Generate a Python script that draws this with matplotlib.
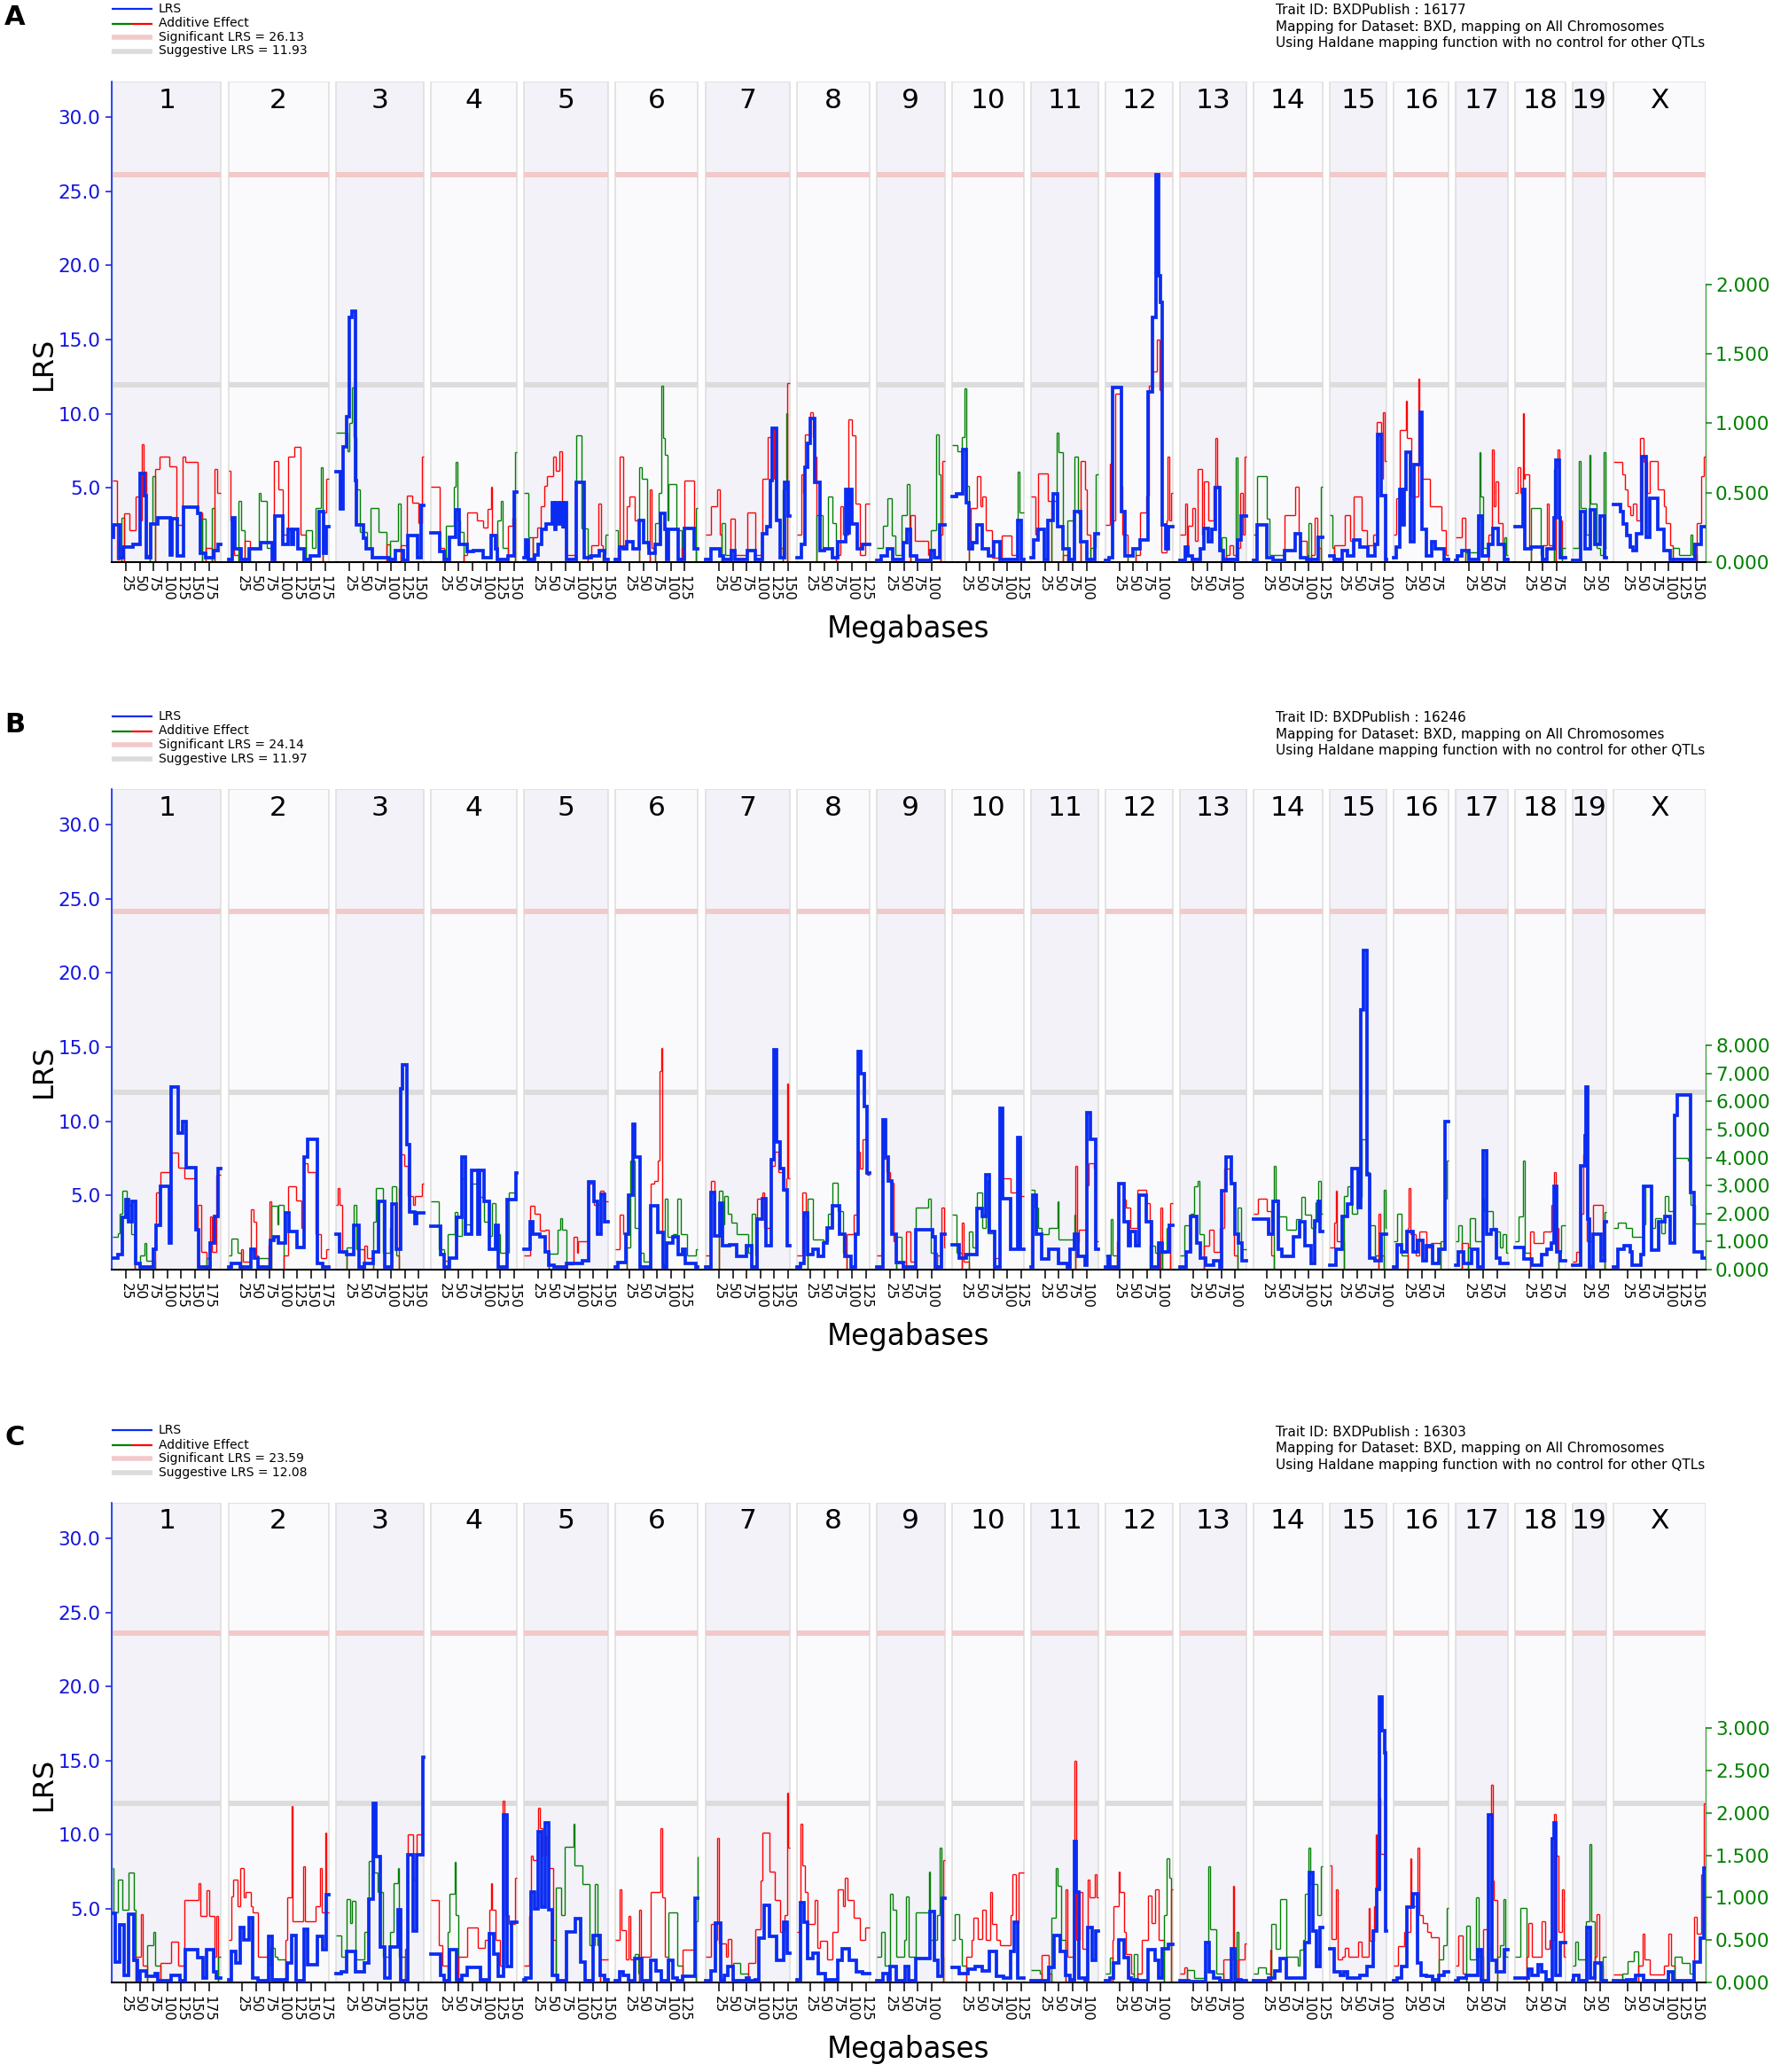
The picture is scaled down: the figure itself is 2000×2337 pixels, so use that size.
import numpy as np
import matplotlib
matplotlib.use("Agg")
import matplotlib.pyplot as plt
from matplotlib.collections import LineCollection
from matplotlib.patches import Rectangle
from matplotlib.lines import Line2D

plt.rcParams['font.family'] = ['DejaVu Sans']

# ---------------- data ----------------
CHROMS = ['1', '2', '3', '4', '5', '6', '7', '8', '9', '10', '11', '12', '13', '14',
          '15', '16', '17', '18', '19', 'X']
CHROM_MB = [197.2, 181.7, 159.6, 155.6, 152.5, 149.5, 152.5, 131.7, 124.1, 130.0,
            121.8, 121.3, 120.3, 125.2, 103.5, 98.3, 95.3, 90.8, 61.3, 166.7]
PANEL_LETTERS = ['A', 'B', 'C']
TRAIT_IDS = ['16177', '16246', '16303']
SIG_LRS = [26.13, 24.14, 23.59]
SUGG_LRS = [11.93, 11.97, 12.08]
LRS_TICKS = [5, 10, 15, 20, 25, 30]
ADD_TICKS = [[0.0, 0.5, 1.0, 1.5, 2.0],
             [0, 1, 2, 3, 4, 5, 6, 7, 8],
             [0.0, 0.5, 1.0, 1.5, 2.0, 2.5, 3.0]]

# per chromosome: flat list [Mb, value, Mb, value, ...] (step starts)
A_LRS = [
    [0,1.7, 2,2.5, 13,0.3, 20,1.0, 38,1.2, 51,6.0, 58,4.5, 62,0.3, 70,2.6, 82,3.0, 105,0.5, 108,2.9, 118,0.4, 129,3.7, 155,3.3, 160,0.6, 169,0.3, 184,0.8, 192,1.2],
    [0,0.2, 7,3.0, 12,0.9, 23,0.2, 37,0.9, 58,1.3, 80,0.2, 85,3.1, 98,1.2, 108,2.2, 114,1.2, 118,2.2, 126,0.9, 137,0.2, 148,0.4, 165,3.4, 173,0.6, 178,2.4],
    [0,6.1, 8,3.6, 13,7.8, 19,9.8, 24,16.5, 30,16.9, 36,5.5, 37,2.5, 50,1.6, 55,0.9, 66,0.3, 96,0.2, 108,0.8, 123,0.1, 131,1.8, 148,0.3, 155,3.8],
    [0,2.0, 16,0.7, 23,0.2, 34,1.7, 45,3.5, 51,1.2, 66,0.7, 76,0.8, 94,0.3, 108,1.8, 116,0.9, 120,0.2, 140,0.4, 150,4.7],
    [0,0.3, 3,1.5, 8,0.2, 19,0.5, 26,1.2, 32,2.2, 40,2.6, 51,4.0, 55,2.2, 58,4.0, 62,2.6, 65,4.0, 70,2.4, 73,4.0, 76,0.2, 95,5.4, 108,0.3, 122,0.4, 136,0.8, 146,0.2],
    [0,0.2, 7,1.0, 14,0.9, 21,1.4, 32,0.9, 43,2.8, 50,1.3, 60,0.6, 71,1.2, 82,3.3, 89,2.2, 92,0.2, 96,2.2, 113,0.2, 124,2.3, 142,0.9],
    [0,0.2, 10,0.9, 26,0.4, 33,0.2, 47,0.8, 54,0.2, 76,0.8, 90,0.2, 104,1.9, 111,2.4, 118,5.5, 121,9.0, 129,2.8, 135,0.3, 143,5.4, 150,3.1],
    [0,0.3, 8,1.2, 15,6.4, 20,8.0, 24,9.7, 32,5.4, 43,0.8, 50,0.9, 64,0.3, 75,1.4, 89,4.9, 93,2.0, 96,4.9, 100,2.6, 110,0.9, 120,1.2],
    [0,0.1, 9,0.4, 20,0.9, 30,0.2, 48,1.3, 55,2.2, 62,0.4, 73,0.1, 98,0.8, 105,0.3, 115,2.5],
    [0,4.4, 8,4.6, 19,7.6, 26,4.0, 30,0.9, 36,1.3, 44,2.5, 54,0.9, 65,0.4, 75,1.4, 86,0.2, 118,2.8, 125,0.2],
    [0,0.3, 5,1.5, 12,2.2, 23,0.2, 30,2.8, 40,4.6, 47,2.4, 58,0.9, 69,0.2, 79,3.4, 90,1.4, 101,0.2, 115,1.9],
    [0,0.1, 6,0.3, 13,11.8, 28,3.4, 35,0.4, 49,0.9, 63,1.5, 77,11.5, 84,16.5, 91,26.1, 96,19.3, 99,17.5, 102,2.5, 109,0.9, 113,2.4],
    [0,0.1, 10,1.0, 15,0.4, 22,0.2, 37,0.9, 44,2.3, 52,1.4, 58,2.2, 65,5.0, 72,0.8, 79,0.2, 101,0.1, 104,1.5, 111,3.1],
    [0,0.1, 7,2.5, 25,0.3, 36,0.1, 57,0.8, 75,1.9, 86,0.3, 97,0.2, 118,1.7],
    [0,0.4, 8,0.2, 23,0.8, 33,0.4, 44,1.5, 55,1.0, 69,0.4, 82,1.2, 87,8.6, 94,4.5, 101,0.2],
    [0,0.3, 4,1.0, 11,4.9, 16,2.5, 19,4.9, 22,7.4, 29,1.4, 36,6.6, 47,10.1, 50,2.2, 58,0.4, 68,1.4, 75,0.9, 90,0.2],
    [0,0.1, 4,0.4, 11,0.8, 25,0.2, 42,3.1, 49,0.4, 60,1.2, 67,2.3, 78,1.2, 88,0.2],
    [0,2.4, 14,4.9, 18,0.9, 28,1.0, 50,0.2, 57,0.9, 70,3.0, 73,6.9, 80,3.0, 82,0.3],
    [0,0.1, 15,3.4, 22,0.9, 33,3.5, 40,1.2, 50,3.1, 58,0.3],
    [0,3.9, 12,3.4, 18,2.6, 24,1.8, 30,1.0, 35,0.8, 41,1.9, 51,7.1, 59,1.7, 66,4.3, 80,2.2, 91,0.8, 102,0.2, 148,1.2, 159,2.4],
]
A_ADD = [
    [0,0.59, 9,0.02, 13,0.1, 17,-0.32, 22,0.35, 31,0.23, 42,0.47, 48,0.3, 53,0.85, 56,0.65, 62,0.05, 68,-0.28, 73,-0.62, 77,0.67, 86,0.76, 104,0.69, 117,0.27, 128,0.76, 133,0.72, 155,0.36, 162,-0.31, 169,0.1, 180,-0.39, 185,0.67, 190,0.5],
    [0,0.66, 4,0.3, 10,0.05, 19,-0.44, 23,-0.23, 30,0.15, 40,-0.1, 55,-0.5, 58,-0.44, 70,-0.1, 83,0.73, 91,0.52, 98,0.2, 108,0.76, 119,0.83, 130,0.2, 140,-0.23, 151,-0.1, 158,-0.39, 167,-0.68, 171,0.36, 178,0.6],
    [0,-0.93, 21,-0.8, 25,-1.0, 29,-1.26, 33,-0.9, 37,-0.52, 43,-0.22, 56,-0.1, 63,-0.39, 78,-0.22, 92,0.13, 99,-0.15, 112,-0.42, 117,0.12, 128,0.48, 138,0.43, 149,0.28, 156,0.76],
    [0,0.54, 16,0.1, 23,0.05, 27,-0.26, 41,-0.54, 45,-0.72, 47,-0.3, 52,-0.22, 59,0.05, 66,0.36, 83,0.3, 94,0.25, 103,0.38, 109,0.54, 111,0.2, 120,-0.3, 126,-0.44, 129,-0.1, 140,0.26, 147,0.32, 152,-0.79],
    [0,-0.5, 7,-0.18, 15,0.18, 23,0.25, 30,0.4, 37,0.55, 42,0.62, 52,0.76, 57,0.66, 64,0.8, 68,0.25, 75,0.05, 95,-0.91, 104,-0.24, 115,0.05, 122,0.12, 135,0.42, 139,0.12, 142,-0.06, 148,-0.2],
    [0,-0.23, 5,0.1, 7,0.76, 14,0.12, 21,0.4, 25,0.47, 35,0.3, 43,-0.68, 47,-0.6, 57,-0.1, 62,0.52, 65,0.1, 71,-0.28, 78,-0.5, 83,-1.27, 86,-0.89, 89,-0.77, 94,-0.3, 96,-0.56, 110,-0.23, 120,0.1, 124,0.59, 142,0.1, 146,-0.39],
    [0,0.2, 10,0.4, 22,0.52, 26,0.2, 29,-0.28, 36,-0.05, 46,0.31, 54,0.05, 76,0.36, 90,0.05, 104,0.6, 113,0.9, 119,0.96, 125,0.6, 129,0.31, 135,0.1, 141,-0.52, 146,-1.07, 149,1.29],
    [0,0.2, 8,0.63, 12,0.5, 15,0.92, 24,1.08, 30,0.9, 33,0.76, 36,-0.34, 47,-0.1, 57,-0.47, 64,-0.28, 71,0.05, 79,0.4, 84,0.2, 93,1.03, 100,0.91, 107,0.42, 114,0.05, 124,0.42],
    [0,-0.1, 11,-0.26, 20,-0.46, 27,-0.19, 34,-0.05, 45,-0.34, 55,-0.56, 60,-0.2, 62,0.34, 69,0.15, 94,0.05, 98,-0.23, 108,-0.92, 112,-0.63, 116,0.2, 119,0.73],
    [0,-0.84, 10,-0.8, 18,-0.9, 23,-1.25, 26,-0.55, 30,0.1, 33,0.39, 44,0.62, 51,0.4, 54,0.47, 61,0.23, 72,0.03, 89,0.19, 107,0.05, 118,-0.65, 121,-0.36],
    [0,0.47, 8,0.2, 12,0.64, 30,0.44, 37,-0.3, 40,-0.44, 46,-0.93, 49,-0.79, 58,0.05, 66,-0.3, 79,-0.76, 84,-0.35, 90,0.73, 97,0.52, 101,0.2, 108,-0.1, 117,-0.63],
    [0,0.27, 8,0.71, 11,0.3, 17,1.21, 28,0.55, 31,0.2, 40,-0.05, 48,-0.1, 55,0.05, 63,0.36, 74,0.48, 79,1.27, 84,1.37, 93,1.6, 97,1.24, 101,0.07, 110,0.3, 112,0.76, 115,0.3, 118,0.5],
    [0,0.2, 10,0.42, 13,0.1, 15,0.26, 22,0.39, 27,0.15, 33,0.67, 40,0.2, 44,0.58, 51,0.3, 62,0.55, 65,0.89, 68,0.55, 72,0.1, 76,-0.18, 83,0.05, 90,0.12, 97,0.05, 101,-0.75, 104,0.1, 109,0.5, 114,0.2, 118,0.76],
    [0,-0.2, 7,-0.62, 25,-0.31, 29,-0.05, 57,0.34, 75,0.54, 82,0.2, 86,0.15, 97,0.05, 100,-0.28, 104,0.05, 111,0.32, 116,0.1, 122,-0.54],
    [0,-0.34, 5,-0.1, 8,0.12, 27,0.34, 37,0.15, 44,0.47, 58,0.23, 67,0.12, 78,0.2, 85,1.01, 94,0.6, 96,1.08, 99,0.73],
    [0,0.2, 4,0.46, 11,0.95, 22,1.16, 24,0.89, 31,0.47, 44,1.32, 46,0.8, 50,0.6, 65,0.4, 86,0.23, 94,0.05],
    [0,0.18, 11,0.32, 18,-0.07, 41,-0.3, 43,-0.79, 46,-0.47, 50,-0.1, 60,0.2, 66,0.81, 70,0.4, 73,0.58, 78,0.28, 85,0.1, 88,-0.18, 92,-0.05],
    [0,0.5, 4,0.68, 10,0.5, 14,1.07, 16,0.6, 18,0.63, 25,0.1, 28,-0.39, 46,-0.05, 50,0.12, 58,0.42, 61,0.12, 70,-0.67, 73,0.68, 77,0.81, 80,0.3, 84,-0.1],
    [0,-0.1, 12,-0.73, 15,-0.39, 25,-0.2, 30,-0.77, 33,-0.42, 43,-0.1, 50,-0.05, 56,-0.79, 59,-0.1],
    [0,0.72, 16,0.63, 20,0.52, 25,0.4, 30,0.34, 35,0.42, 42,0.3, 48,0.89, 55,0.72, 60,0.5, 66,0.73, 80,0.52, 91,0.4, 95,0.28, 102,0.12, 108,-0.1, 119,-0.05, 140,-0.2, 143,-0.05, 151,0.28, 159,0.62, 164,0.76],
]

B_LRS = [
    [0,0.8, 10,1.0, 19,3.5, 24,4.7, 30,3.2, 36,4.6, 42,0.4, 51,0.2, 74,1.4, 80,3.0, 88,5.6, 103,1.8, 107,12.3, 120,9.2, 127,10.0, 134,6.9, 151,2.7, 157,0.2, 177,1.8, 185,3.6, 192,6.8],
    [0,0.2, 6,0.4, 22,0.2, 41,1.4, 47,0.8, 54,0.2, 76,2.0, 82,2.2, 91,1.8, 104,3.8, 110,2.6, 124,1.5, 137,7.6, 143,8.8, 161,0.4, 171,0.2],
    [0,2.4, 7,1.2, 19,1.0, 32,3.0, 42,0.2, 51,0.4, 67,1.2, 77,4.6, 89,0.2, 102,4.4, 109,1.4, 117,12.2, 121,13.8, 128,8.4, 134,3.9, 144,3.1, 147,3.8],
    [0,2.9, 17,1.0, 23,0.2, 33,0.8, 46,3.5, 55,7.6, 62,2.4, 74,6.7, 84,2.4, 88,6.7, 96,4.6, 106,1.4, 116,3.0, 122,0.2, 138,4.7, 153,6.5],
    [0,1.4, 10,3.2, 16,2.4, 29,2.2, 38,1.2, 44,0.3, 54,0.2, 76,0.4, 105,0.6, 117,5.9, 127,4.6, 133,2.4, 140,5.1, 146,3.2],
    [0,0.2, 5,0.5, 18,2.4, 24,5.0, 31,9.8, 34,7.6, 44,0.2, 63,4.3, 76,2.5, 86,0.2, 93,1.8, 103,2.2, 113,1.0, 122,1.4, 126,0.4, 145,0.2],
    [0,0.2, 11,5.2, 17,2.3, 26,4.5, 31,1.6, 44,1.7, 57,0.9, 74,1.6, 84,0.2, 93,3.4, 103,4.8, 110,1.6, 120,7.4, 124,14.8, 129,8.6, 136,6.8, 142,5.4, 149,1.6],
    [0,0.2, 7,0.4, 13,3.8, 20,1.0, 29,1.4, 39,0.9, 49,1.8, 55,2.8, 65,4.3, 78,2.4, 88,0.9, 98,0.2, 106,2.4, 111,14.7, 116,13.2, 123,11.0, 127,6.5],
    [0,0.2, 11,10.1, 16,7.6, 21,6.0, 28,2.4, 35,0.5, 48,0.2, 71,2.7, 101,2.2, 107,0.2, 118,2.4],
    [0,1.7, 12,0.8, 25,1.0, 44,4.1, 54,3.6, 61,6.4, 67,2.6, 76,0.2, 86,10.9, 92,4.8, 105,1.4, 118,8.9, 123,1.4],
    [0,0.2, 3,5.0, 10,2.4, 19,0.7, 32,1.4, 49,0.4, 65,0.2, 71,1.4, 78,2.4, 85,0.9, 97,0.3, 100,10.6, 107,8.8, 117,1.4],
    [0,0.2, 5,0.9, 8,0.2, 24,5.8, 34,3.2, 41,1.6, 44,2.6, 54,1.6, 60,5.0, 73,3.2, 83,0.2, 96,1.8, 103,1.2, 116,3.0],
    [0,0.2, 12,1.2, 19,3.6, 30,1.8, 37,0.8, 47,0.3, 61,0.6, 72,0.2, 76,5.3, 83,7.6, 93,5.8, 100,2.4, 106,1.8, 113,0.6],
    [0,3.4, 28,2.4, 36,4.6, 45,1.4, 52,0.9, 73,2.2, 83,3.2, 94,1.6, 104,0.4, 111,3.3, 117,4.6, 121,2.6],
    [0,0.3, 12,1.4, 23,3.6, 33,4.4, 40,6.8, 51,4.2, 57,17.5, 61,21.5, 68,6.4, 72,0.8, 82,0.6, 93,2.4],
    [0,0.2, 6,1.7, 13,1.2, 24,2.6, 35,1.2, 42,2.0, 52,0.6, 59,1.6, 70,0.4, 81,1.4, 92,10.0],
    [0,0.3, 5,1.2, 15,0.4, 29,1.4, 40,0.2, 50,8.0, 57,2.4, 64,2.7, 74,0.8, 81,0.4],
    [0,1.5, 16,0.7, 30,0.3, 47,1.0, 58,1.4, 65,1.8, 71,5.6, 75,1.2, 82,0.6],
    [0,0.3, 14,7.0, 22,9.0, 24,12.3, 27,3.4, 30,0.2, 37,2.4, 51,0.6, 58,3.2],
    [0,0.2, 8,1.4, 19,1.6, 30,1.2, 33,0.3, 50,1.0, 54,5.6, 68,1.3, 82,3.2, 93,3.6, 103,1.8, 110,10.4, 116,11.8, 139,5.2, 146,1.2, 160,0.8],
]
B_ADD = [
    [0,-1.16, 10,-1.3, 13,-2.0, 19,-2.8, 26,-2.3, 35,-1.27, 40,0.2, 50,-0.5, 58,-0.95, 61,-0.32, 77,1.27, 80,2.75, 87,3.48, 106,4.17, 119,3.64, 131,3.27, 151,1.5, 154,2.3, 161,0.63, 170,-0.4, 177,1.9, 181,0.63, 189,3.38],
    [0,-0.5, 6,-1.1, 16,-0.6, 24,0.74, 27,0.3, 41,2.16, 46,1.7, 51,0.5, 54,-0.42, 73,0.9, 75,2.43, 78,-2.27, 89,-1.6, 91,-2.3, 101,0.5, 108,2.96, 123,2.48, 133,1.5, 137,3.8, 143,3.48, 158,1.27, 168,0.4, 177,0.74],
    [0,2.3, 3,2.9, 6,2.3, 12,0.6, 20,-0.8, 32,-2.3, 38,-0.74, 51,0.85, 57,0.42, 68,-1.7, 73,-2.9, 86,-0.6, 98,-1.5, 102,-2.96, 109,-0.5, 115,2.9, 118,4.1, 124,3.7, 130,2.64, 140,2.3, 144,2.64, 156,3.06],
    [0,-2.43, 14,-0.74, 23,0.32, 30,-1.27, 43,-2.06, 48,-1.2, 56,-3.27, 62,-1.6, 74,-3.06, 84,-2.6, 96,-1.7, 104,-1.2, 110,-2.37, 116,-1.27, 124,-0.6, 141,-2.75, 153,-2.53],
    [0,0.5, 10,2.27, 19,2.0, 29,1.4, 38,1.43, 44,-0.58, 60,-1.43, 66,-1.85, 69,-1.43, 76,0.2, 89,1.16, 96,0.6, 98,1.0, 117,3.06, 126,2.3, 138,2.8, 144,2.43],
    [0,0.74, 8,1.95, 14,1.27, 20,-0.8, 27,-3.9, 34,-1.48, 42,-0.6, 50,-0.3, 63,3.06, 70,3.17, 76,3.9, 80,7.1, 83,7.9, 85,0.2, 89,-2.53, 94,-1.16, 103,-1.27, 112,-2.53, 119,-1.27, 130,-0.5, 145,-0.74],
    [0,0.5, 10,3.17, 16,1.2, 24,-2.8, 31,-1.6, 34,-2.64, 41,-2.0, 47,-1.69, 57,-1.27, 77,-0.6, 84,-2.0, 90,-0.5, 93,2.53, 103,2.75, 107,1.5, 120,3.7, 126,4.2, 133,3.48, 140,2.8, 146,3.27, 148,6.65, 150,3.27],
    [0,0.5, 10,2.75, 16,1.9, 20,-2.53, 29,-1.06, 49,-1.0, 56,-2.0, 65,-3.1, 75,-2.1, 84,-0.6, 90,1.27, 104,1.95, 110,4.22, 115,3.6, 120,4.65, 127,3.38],
    [0,0.5, 10,3.96, 18,3.48, 25,3.1, 31,1.0, 35,-1.16, 45,-0.3, 54,1.37, 61,0.3, 71,-2.2, 94,-2.53, 99,-0.6, 110,0.5, 118,2.2, 122,0.8],
    [0,-1.95, 8,-0.6, 18,1.69, 21,0.3, 31,-1.37, 37,-0.8, 44,-2.75, 54,-1.5, 61,-3.17, 64,-1.3, 76,0.4, 86,4.0, 92,3.27, 105,2.75, 118,2.64],
    [0,-2.85, 6,-2.2, 12,-1.5, 19,-1.27, 32,-1.5, 47,-2.43, 50,-1.06, 78,-1.95, 80,3.7, 83,1.0, 87,1.43, 100,3.0, 104,3.8, 113,3.6, 117,1.0],
    [0,-0.5, 9,-1.8, 13,-0.5, 20,1.0, 24,3.06, 34,2.5, 37,2.2, 44,1.5, 57,2.85, 73,2.37, 80,-0.84, 90,-0.6, 99,2.2, 102,-0.6, 110,-1.48, 117,2.37],
    [0,-0.5, 8,-1.58, 19,-2.0, 26,-2.96, 33,-3.17, 35,-1.27, 44,0.84, 54,1.43, 61,0.63, 72,1.5, 80,3.6, 90,3.2, 93,3.06, 98,0.5, 104,-2.2, 111,-0.74],
    [0,2.0, 9,2.53, 24,2.1, 32,0.5, 37,-3.7, 40,-2.5, 45,-1.9, 59,-1.43, 77,-1.8, 87,-2.6, 94,-1.95, 104,-1.5, 112,-2.4, 118,-3.17, 122,-2.0],
    [0,0.8, 8,1.69, 11,2.8, 13,1.0, 26,-2.64, 33,-2.96, 40,-2.0, 50,-2.6, 58,-4.65, 66,-3.48, 72,-1.58, 82,-0.5, 88,2.0, 91,0.5, 98,-2.85, 102,-1.5],
    [0,-1.0, 6,-2.0, 13,-0.5, 25,1.5, 27,2.9, 30,1.27, 40,0.5, 45,1.37, 59,0.8, 66,0.95, 84,-1.0, 90,-2.53, 96,-3.9],
    [0,-1.0, 5,-1.58, 12,0.95, 22,-0.8, 26,-1.85, 36,-1.0, 48,-2.53, 52,-2.1, 67,-1.5, 74,-1.37, 81,-0.8, 85,-1.27, 92,-0.6],
    [0,-1.0, 6,-1.9, 14,-3.9, 17,-0.6, 27,1.37, 33,0.95, 51,1.37, 65,2.3, 70,3.48, 73,1.5, 78,-0.6, 83,-1.58],
    [0,0.3, 6,0.63, 15,2.0, 19,4.1, 26,1.0, 37,2.3, 55,0.5, 58,-2.06],
    [0,-1.5, 8,-1.69, 22,-1.48, 33,-1.16, 54,-1.6, 58,-2.96, 68,-1.5, 75,-1.85, 86,-1.3, 93,-2.64, 100,-2.1, 110,-4.0, 135,-3.9, 139,-2.3, 148,-1.64],
]

C_LRS = [
    [0,4.7, 6,1.4, 13,3.9, 22,0.5, 29,4.6, 39,1.5, 45,0.2, 51,0.8, 61,0.4, 77,0.6, 83,0.1, 106,0.5, 122,0.1, 132,2.2, 154,1.7, 164,0.3, 170,2.2, 183,0.7, 189,0.3],
    [0,0.2, 6,2.1, 13,1.3, 22,3.7, 28,2.9, 38,4.4, 44,0.3, 54,0.1, 73,3.1, 79,0.2, 107,1.3, 114,3.2, 123,0.1, 137,3.6, 143,1.2, 161,3.1, 171,2.2, 177,5.9],
    [0,0.6, 10,0.7, 19,2.1, 35,0.7, 51,1.3, 59,5.6, 67,12.1, 72,8.5, 80,2.4, 89,0.3, 99,2.4, 112,4.9, 118,0.1, 131,8.6, 140,3.5, 147,8.6, 157,15.2],
    [0,1.9, 17,0.5, 23,0.1, 33,2.2, 46,0.2, 55,0.5, 65,1.0, 90,0.2, 106,3.3, 113,1.9, 122,0.4, 131,11.3, 138,1.1, 145,4.1],
    [0,0.2, 3,0.3, 13,6.1, 19,5.0, 25,10.2, 32,5.1, 38,10.8, 44,4.9, 51,0.5, 60,0.1, 76,3.4, 92,4.3, 102,1.4, 111,0.1, 124,3.2, 137,0.5, 146,0.2],
    [0,0.1, 8,0.7, 14,0.5, 24,0.1, 34,1.6, 47,0.1, 63,1.5, 73,0.8, 83,0.1, 96,1.5, 103,0.3, 112,0.1, 122,0.4, 144,5.7],
    [0,0.1, 11,0.8, 18,4.0, 28,0.1, 34,0.5, 41,1.1, 51,0.1, 74,0.3, 80,0.1, 90,0.2, 97,3.0, 107,5.2, 117,3.1, 129,1.5, 142,4.1, 149,2.0],
    [0,0.2, 7,5.4, 13,4.1, 20,1.6, 29,2.0, 39,0.6, 52,0.2, 75,1.5, 82,2.3, 95,1.5, 108,0.7, 120,0.6],
    [0,0.1, 11,0.6, 21,0.2, 25,1.1, 35,0.1, 51,1.1, 58,0.1, 71,1.6, 96,4.8, 104,1.5, 111,0.4, 119,5.7],
    [0,1.0, 12,0.6, 28,0.9, 41,1.1, 54,0.8, 67,2.1, 80,0.4, 93,0.3, 105,2.1, 112,4.1, 118,0.3],
    [0,0.1, 32,1.0, 42,3.2, 52,2.1, 62,0.5, 71,0.2, 78,9.5, 81,6.1, 87,0.3, 97,0.2, 103,3.7, 110,1.5, 117,3.5],
    [0,0.1, 8,0.3, 14,1.3, 24,2.9, 34,1.7, 41,0.3, 47,0.2, 57,0.1, 77,2.2, 90,1.5, 96,0.3, 103,2.3, 113,2.6],
    [0,0.1, 16,0.05, 47,2.7, 54,0.7, 62,0.3, 72,0.1, 93,2.3, 100,0.2, 111,0.1],
    [0,0.1, 28,0.3, 38,0.8, 49,1.6, 59,0.3, 94,2.7, 101,7.4, 108,3.5, 115,1.1, 120,3.7],
    [0,2.3, 8,0.7, 19,0.5, 26,0.7, 33,0.3, 54,0.5, 68,1.1, 79,3.5, 85,6.3, 90,19.3, 95,17.0, 99,15.5, 102,3.5],
    [0,0.1, 6,0.3, 13,1.1, 24,5.1, 35,6.0, 42,1.3, 49,0.5, 59,0.4, 70,0.2, 81,0.5, 91,0.7],
    [0,0.1, 5,0.3, 19,0.5, 40,2.2, 47,0.1, 60,11.3, 66,1.5, 74,0.7, 88,2.2],
    [0,0.3, 23,0.9, 30,0.5, 41,1.2, 47,0.7, 56,0.2, 67,9.7, 70,10.8, 73,0.5, 82,2.7],
    [0,0.1, 2,0.5, 12,0.1, 26,3.7, 33,0.3, 40,1.3, 51,0.1],
    [0,0.1, 23,0.2, 40,0.5, 54,0.1, 100,0.7, 107,0.1, 146,1.4, 157,3.0, 163,7.7],
]
C_ADD = [
    [0,-1.35, 3,-0.83, 10,-1.21, 19,-0.86, 29,-1.3, 39,-0.86, 43,0.3, 52,0.81, 55,0.2, 64,-0.44, 75,-0.6, 78,-0.2, 87,0.23, 106,0.48, 120,0.2, 130,0.97, 157,1.17, 160,0.79, 171,1.09, 175,0.79, 186,0.3, 188,0.79, 192,-0.3],
    [0,0.5, 6,1.02, 9,1.21, 16,0.9, 22,1.35, 28,1.0, 32,1.07, 41,0.9, 44,0.83, 54,0.3, 73,-0.2, 76,-0.41, 85,-0.3, 89,-0.27, 104,0.5, 107,1.0, 114,2.08, 117,0.72, 136,1.37, 139,0.72, 158,0.9, 166,1.35, 170,0.83, 175,1.77, 178,0.83],
    [0,-0.56, 10,-0.3, 19,-0.98, 26,-0.7, 29,-0.96, 36,-0.27, 51,-0.6, 59,-1.43, 66,-1.87, 70,-1.3, 76,-1.07, 86,-0.3, 99,-0.6, 105,-1.17, 112,-1.35, 115,-0.3, 125,0.4, 130,1.75, 140,1.21, 146,1.75, 158,2.15],
    [0,0.97, 14,0.44, 20,0.2, 30,-0.6, 33,-1.05, 43,-1.42, 45,-0.8, 50,0.3, 65,0.65, 84,0.41, 98,0.5, 106,0.86, 109,1.17, 111,0.86, 116,0.5, 124,0.2, 130,2.15, 132,1.92, 135,0.8, 141,0.69, 152,1.24],
    [0,0.2, 9,0.79, 13,1.5, 16,1.45, 26,2.06, 29,1.82, 34,1.5, 40,1.73, 43,1.35, 52,0.5, 57,-1.12, 67,-0.8, 73,-1.6, 89,-1.87, 91,-1.38, 105,-1.16, 118,-0.44, 128,-1.16, 132,-0.44, 137,0.27],
    [0,0.5, 8,1.1, 11,0.62, 18,0.27, 24,0.79, 27,0.27, 34,-0.34, 41,-0.1, 43,0.86, 46,0.3, 63,1.07, 81,1.82, 84,1.0, 90,0.3, 96,-0.83, 112,-0.2, 122,0.39, 142,0.1, 145,-0.72, 148,-1.49],
    [0,0.3, 10,0.69, 16,0.5, 22,1.71, 25,0.46, 38,0.3, 41,0.51, 48,0.2, 51,-0.23, 64,-0.1, 78,0.23, 90,0.63, 100,1.2, 103,1.77, 117,1.31, 126,0.97, 135,0.6, 144,0.8, 148,2.24, 150,1.59],
    [0,0.6, 7,1.87, 10,1.38, 15,1.07, 20,0.69, 33,0.97, 37,0.41, 42,0.49, 55,0.27, 65,0.6, 75,1.1, 84,0.9, 88,1.24, 92,0.97, 104,0.76, 114,0.5, 124,0.65],
    [0,-0.3, 8,-0.6, 14,-0.2, 25,-1.05, 29,-0.86, 35,-0.3, 50,-0.5, 54,-1.02, 58,-0.3, 71,-0.83, 95,-1.31, 97,-0.5, 110,-0.8, 114,-1.59, 118,-0.3, 121,1.45],
    [0,-0.5, 5,-0.81, 12,-0.51, 18,-0.2, 25,0.3, 35,0.5, 38,0.76, 47,0.51, 54,0.86, 61,0.5, 69,1.07, 72,0.69, 80,0.5, 86,0.44, 105,0.8, 109,1.28, 115,0.7, 120,1.3],
    [0,-0.15, 16,-0.1, 19,0.32, 32,0.1, 36,-0.76, 45,-1.35, 48,-1.14, 55,-0.5, 62,1.1, 66,0.3, 77,0.8, 79,2.62, 82,0.5, 88,1.07, 92,0.4, 103,1.21, 106,1.0, 116,1.28, 119,1.0],
    [0,-0.1, 8,-0.29, 12,0.5, 14,0.9, 23,1.31, 26,1.07, 34,0.6, 37,0.34, 47,0.1, 51,-0.34, 58,0.1, 66,0.5, 77,1.03, 83,0.7, 90,1.1, 96,0.5, 105,-0.8, 111,-1.47, 115,-1.24, 118,1.1],
    [0,0.1, 8,0.18, 13,-0.15, 26,-0.05, 45,-0.48, 52,-1.37, 55,-0.63, 66,-0.1, 79,0.27, 96,1.14, 99,0.27, 103,-0.6, 106,0.27, 118,0.46],
    [0,-0.1, 9,-0.18, 22,-0.1, 30,0.39, 33,-0.69, 40,-0.4, 49,-0.98, 59,-0.3, 80,-0.2, 84,-0.39, 90,-0.5, 94,-1.05, 99,-1.59, 103,-1.16, 116,-0.8, 122,-1.37],
    [0,1.38, 3,0.51, 11,1.1, 14,0.27, 22,0.3, 28,0.41, 34,0.3, 51,0.48, 58,0.3, 70,0.88, 73,0.49, 80,0.9, 83,1.75, 85,1.1, 88,2.18, 92,1.52, 100,1.3],
    [0,0.2, 8,0.43, 18,0.6, 29,1.47, 32,0.9, 42,1.59, 46,0.8, 52,0.7, 61,0.6, 66,0.53, 81,-0.27, 89,-0.44, 95,-0.88],
    [0,0.2, 5,0.55, 13,0.1, 19,-0.67, 26,-0.27, 38,-1.0, 42,-0.3, 50,0.63, 58,0.4, 64,2.34, 67,1.2, 70,0.97, 75,-0.3, 80,-0.44, 87,-0.98, 90,-0.3],
    [0,-0.3, 10,-0.88, 21,0.3, 23,0.7, 30,0.3, 47,0.72, 54,0.4, 62,0.5, 70,1.99, 73,1.5, 78,0.6, 85,1.1, 88,0.3],
    [0,-0.2, 5,-0.48, 9,-0.27, 25,-0.72, 31,-1.63, 34,-0.72, 40,0.3, 44,0.81, 48,0.2, 54,-0.3],
    [0,0.09, 15,-0.1, 25,-0.25, 37,-0.37, 45,0.2, 53,0.58, 56,0.27, 66,0.09, 92,0.2, 100,0.58, 104,0.2, 110,-0.3, 124,-0.23, 138,-0.1, 146,0.77, 150,0.58, 159,1.28, 164,2.11],
]

PANEL_LRS = [A_LRS, B_LRS, C_LRS]
PANEL_ADD = [A_ADD, B_ADD, C_ADD]

# ---------------- layout / style ----------------
W, H = 2000, 2337
AX_L, AX_R = 126, 1924
TOPS = [92, 890, 1695]
BASES = [634, 1432, 2236]
Y_MAX = 32.4
ADD_SCALE = [9.37, 1.89, 5.72]   # LRS units per additive unit on the plot
GAP = 13.0
X_LEFT = -1.0

BLUE = '#0a2cf2'
BLUE_TXT = '#1414dc'
RED = '#ff0000'
GREEN = '#008000'
SIG_C = '#f3c9c9'
SUGG_C = '#dcdcdc'
BOX_DARK = '#f2f2f8'
BOX_LIGHT = '#fafafd'
BOX_EDGE = '#dddddd'

offs = [0.0]
for L in CHROM_MB[:-1]:
    offs.append(offs[-1] + L + GAP)
X_RIGHT = offs[-1] + CHROM_MB[-1]


def fx(px):
    return px / W


def fy(py):
    return 1 - py / H


fig = plt.figure(figsize=(W / 100, H / 100), dpi=100)
fig.patch.set_facecolor('white')


def fig_line(x0, x1, y, color, lw):
    fig.add_artist(Line2D([fx(x0), fx(x1)], [fy(y), fy(y)], transform=fig.transFigure,
                          color=color, lw=lw, solid_capstyle='butt'))


for p in range(3):
    top, base = TOPS[p], BASES[p]
    ax = fig.add_axes([fx(AX_L), fy(base), fx(AX_R) - fx(AX_L), (base - top) / H])
    ax2 = ax.twinx()
    ax.set_zorder(ax2.get_zorder() + 1)
    ax.patch.set_visible(False)

    # chromosome boxes
    for i, L in enumerate(CHROM_MB):
        ax.add_patch(Rectangle((offs[i], 0), L, 1, transform=ax.get_xaxis_transform(),
                               facecolor=BOX_DARK if i % 2 == 0 else BOX_LIGHT,
                               edgecolor=BOX_EDGE, lw=1.1, zorder=0))
        ax.plot([offs[i], offs[i] + L], [SIG_LRS[p]] * 2, color=SIG_C, lw=4.3,
                solid_capstyle='butt', zorder=1)
        ax.plot([offs[i], offs[i] + L], [SUGG_LRS[p]] * 2, color=SUGG_C, lw=4.3,
                solid_capstyle='butt', zorder=1)
        ax.text(offs[i] + L / 2, 1 - 21 / (base - top), CHROMS[i],
                transform=ax.get_xaxis_transform(), ha='center', va='center',
                fontsize=22.5, color='black', zorder=5)

    # additive effect (green/red by sign) on right-hand scale
    segs, cols = [], []
    for i, flat in enumerate(PANEL_ADD[p]):
        mb = flat[0::2]
        v = flat[1::2]
        ends = list(mb[1:]) + [CHROM_MB[i]]
        n = len(v)
        for k in range(n):
            x0 = offs[i] + mb[k]
            x1 = offs[i] + ends[k]
            c = RED if v[k] > 0 else GREEN
            a = abs(v[k])
            segs.append([(x0, a), (x1, a)])
            cols.append(c)
            if k < n - 1:
                b = abs(v[k + 1])
                c2 = RED if v[k + 1] > 0 else GREEN
                if c2 == c:
                    segs.append([(x1, a), (x1, b)])
                    cols.append(c)
                else:
                    segs.append([(x1, a), (x1, 0)])
                    cols.append(c)
                    segs.append([(x1, 0), (x1, b)])
                    cols.append(c2)
    lc = LineCollection(segs, colors=cols, linewidths=1.0, transform=ax2.transData, zorder=2)
    ax.add_collection(lc, autolim=False)

    # LRS
    for i, flat in enumerate(PANEL_LRS[p]):
        mb = np.array(flat[0::2], dtype=float)
        v = np.array(flat[1::2], dtype=float)
        xs = offs[i] + np.r_[mb, CHROM_MB[i]]
        ys = np.r_[v, v[-1]]
        ax.step(xs, ys, where='post', color=BLUE, lw=2.7, zorder=3, solid_joinstyle='miter')

    ax.set_xlim(X_LEFT, X_RIGHT)
    ax.set_ylim(0, Y_MAX)
    ax2.set_ylim(0, Y_MAX / ADD_SCALE[p])

    # x ticks (Mb within each chromosome)
    tpos, tlab = [], []
    for i, L in enumerate(CHROM_MB):
        m = 25
        while m <= L:
            tpos.append(offs[i] + m)
            tlab.append(str(m))
            m += 25
    ax.set_xticks(tpos)
    ax.set_xticklabels(tlab, rotation=-90, fontsize=11)
    ax.tick_params(axis='x', length=7, width=1.1, pad=4, color='black', labelcolor='black')

    # left axis (LRS)
    ax.set_yticks(LRS_TICKS)
    ax.set_yticklabels(['%.1f' % t for t in LRS_TICKS])
    ax.tick_params(axis='y', length=5, width=1.1, pad=4, color=BLUE_TXT, labelcolor=BLUE_TXT,
                   labelsize=15.5)
    for s in ['top', 'right']:
        ax.spines[s].set_visible(False)
    ax.spines['left'].set_color(BLUE)
    ax.spines['left'].set_linewidth(1.2)
    ax.spines['bottom'].set_color('black')
    ax.spines['bottom'].set_linewidth(1.5)

    # right axis (additive effect)
    for s in ['top', 'left', 'bottom']:
        ax2.spines[s].set_visible(False)
    ax2.spines['right'].set_color(GREEN)
    ax2.spines['right'].set_linewidth(1.2)
    ax2.spines['right'].set_bounds(0, ADD_TICKS[p][-1])
    ax2.set_yticks(ADD_TICKS[p])
    ax2.set_yticklabels(['%.3f' % t for t in ADD_TICKS[p]])
    ax2.tick_params(axis='y', length=5, width=1.1, pad=3, color=GREEN, labelcolor=GREEN,
                    labelsize=15.5)

    # axis titles
    fig.text(fx(49), fy(base - 224), 'LRS', rotation=90, fontsize=23, ha='center', va='center')
    fig.text(fx((AX_L + AX_R) / 2), fy(base + 76), 'Megabases', fontsize=23.5,
             ha='center', va='center')

    # panel letter
    fig.text(fx(17), fy(top - 73), PANEL_LETTERS[p], fontsize=22, fontweight='bold',
             ha='center', va='center')

    # legend
    ly = [top - 82, top - 65.5, top - 50, top - 34.5]
    fig_line(126, 172, ly[0], BLUE, 1.6)
    fig_line(126, 149, ly[1], GREEN, 1.6)
    fig_line(149, 172, ly[1], RED, 1.6)
    fig_line(126, 172, ly[2], SIG_C, 4.0)
    fig_line(126, 172, ly[3], SUGG_C, 4.0)
    leg_txt = ['LRS', 'Additive Effect', 'Significant LRS = %.2f' % SIG_LRS[p],
               'Suggestive LRS = %.2f' % SUGG_LRS[p]]
    for yy, t in zip(ly, leg_txt):
        fig.text(fx(179), fy(yy), t, fontsize=10, ha='left', va='center')

    # trait info
    info = ['Trait ID: BXDPublish : %s' % TRAIT_IDS[p],
            'Mapping for Dataset: BXD, mapping on All Chromosomes',
            'Using Haldane mapping function with no control for other QTLs']
    for k, t in enumerate(info):
        fig.text(fx(1439), fy(top - 80 + 18.5 * k), t, fontsize=11, ha='left', va='center')

fig.savefig('out.png', dpi=100, facecolor='white')
